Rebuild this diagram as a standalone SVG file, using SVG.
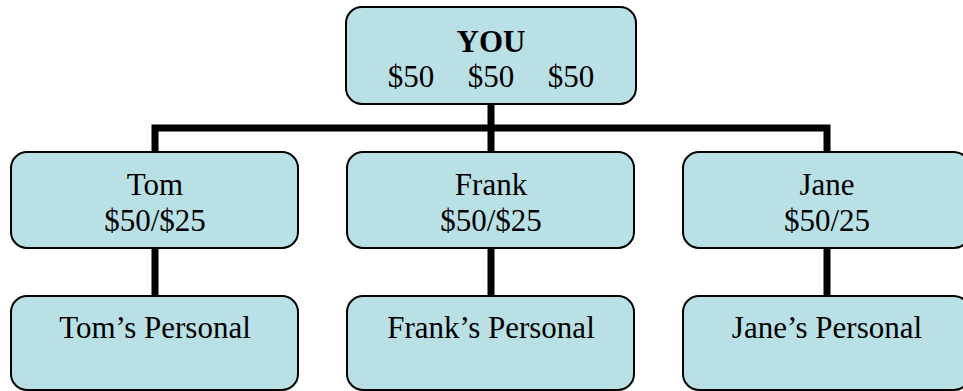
<svg xmlns="http://www.w3.org/2000/svg" width="963" height="391" viewBox="0 0 963 391">
<style>
.box{fill:#B9E0E4;stroke:#000;stroke-width:2}
.t{font-family:"Liberation Serif","Times New Roman",serif;font-size:31px;fill:#000;text-anchor:middle}
.b{font-weight:bold}
.c{stroke:#000;stroke-width:7;fill:none}
</style>
<g id="connectors">
<line class="c" x1="491" y1="104" x2="491" y2="128"/>
<polyline class="c" points="155,152 155,128 827,128 827,152"/>
<line class="c" x1="491" y1="128" x2="491" y2="152"/>
<line class="c" x1="155" y1="248" x2="155" y2="296"/>
<line class="c" x1="491" y1="248" x2="491" y2="296"/>
<line class="c" x1="827" y1="248" x2="827" y2="296"/>
</g>
<g id="you">
<rect class="box" x="346" y="7" width="290" height="97" rx="16"/>
<text class="t b" x="491" y="52">YOU</text>
<text class="t" x="411" y="87">$50</text>
<text class="t" x="491" y="87">$50</text>
<text class="t" x="571" y="87">$50</text>
</g>
<g id="tom">
<rect class="box" x="11" y="152" width="287" height="96" rx="16"/>
<text class="t" x="155" y="195">Tom</text>
<text class="t" x="155" y="231">$50/$25</text>
</g>
<g id="frank">
<rect class="box" x="347" y="152" width="287" height="96" rx="16"/>
<text class="t" x="491" y="195">Frank</text>
<text class="t" x="491" y="231">$50/$25</text>
</g>
<g id="jane">
<rect class="box" x="683" y="152" width="287" height="96" rx="16"/>
<text class="t" x="827" y="195">Jane</text>
<text class="t" x="827" y="231">$50/25</text>
</g>
<g id="tom-personal">
<rect class="box" x="11" y="296" width="287" height="94" rx="16"/>
<text class="t" x="155" y="338">Tom’s Personal</text>
</g>
<g id="frank-personal">
<rect class="box" x="347" y="296" width="287" height="94" rx="16"/>
<text class="t" x="491" y="338">Frank’s Personal</text>
</g>
<g id="jane-personal">
<rect class="box" x="683" y="296" width="287" height="94" rx="16"/>
<text class="t" x="827" y="338">Jane’s Personal</text>
</g>
</svg>
